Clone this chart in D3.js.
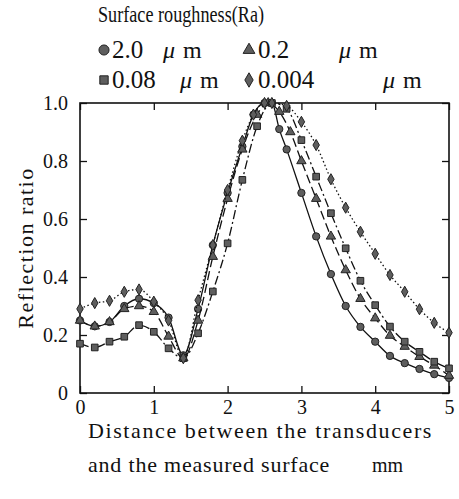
<!DOCTYPE html>
<html>
<head>
<meta charset="utf-8">
<script src="https://cdn.jsdelivr.net/npm/d3@7/dist/d3.min.js"></script>
<style>
  body { margin: 0; background: #fff; }
  svg text { font-family: "Liberation Serif", "Times New Roman", serif; fill: #111; }
</style>
</head>
<body>
<div id="chart"></div>
<script>
// distances (mm) and reflection ratio for each surface roughness
var x_circle = [0, 0.2, 0.4, 0.6, 0.8, 1.0, 1.2, 1.4, 1.6, 1.8, 2.0, 2.2, 2.35, 2.5, 2.6, 2.7, 2.8, 3.0, 3.2, 3.4, 3.6, 3.8, 4.0, 4.2, 4.4, 4.6, 4.8, 5.0];
var y_circle = [0.25, 0.23, 0.245, 0.30, 0.325, 0.31, 0.26, 0.13, 0.29, 0.51, 0.69, 0.85, 0.96, 1.0, 1.0, 0.91, 0.84, 0.69, 0.54, 0.41, 0.30, 0.228, 0.177, 0.128, 0.103, 0.083, 0.065, 0.052];

var x_tri = [0, 0.2, 0.4, 0.6, 0.8, 1.0, 1.2, 1.4, 1.6, 1.8, 2.0, 2.2, 2.4, 2.55, 2.7, 2.85, 3.0, 3.2, 3.4, 3.6, 3.8, 4.0, 4.2, 4.4, 4.6, 4.8, 5.0];
var y_tri = [0.25, 0.23, 0.245, 0.29, 0.30, 0.28, 0.195, 0.12, 0.25, 0.47, 0.67, 0.84, 0.96, 1.0, 0.97, 0.90, 0.80, 0.67, 0.54, 0.424, 0.325, 0.258, 0.198, 0.16, 0.125, 0.095, 0.06];

var x_sq = [0, 0.2, 0.4, 0.6, 0.8, 1.0, 1.2, 1.4, 1.6, 1.8, 2.0, 2.2, 2.4, 2.6, 2.8, 3.0, 3.2, 3.4, 3.6, 3.8, 4.0, 4.2, 4.4, 4.6, 4.8, 5.0];
var y_sq = [0.17, 0.157, 0.177, 0.194, 0.234, 0.211, 0.154, 0.12, 0.206, 0.35, 0.516, 0.735, 0.92, 1.0, 0.98, 0.872, 0.746, 0.62, 0.499, 0.387, 0.303, 0.229, 0.177, 0.142, 0.108, 0.085];

var x_dia = [0, 0.2, 0.4, 0.6, 0.8, 1.0, 1.2, 1.4, 1.6, 1.8, 2.0, 2.2, 2.35, 2.5, 2.6, 2.8, 3.0, 3.2, 3.4, 3.6, 3.8, 4.0, 4.2, 4.4, 4.6, 4.8, 5.0];
var y_dia = [0.29, 0.31, 0.318, 0.349, 0.357, 0.315, 0.25, 0.12, 0.32, 0.51, 0.70, 0.87, 0.96, 1.0, 1.0, 0.99, 0.935, 0.855, 0.737, 0.639, 0.556, 0.48, 0.407, 0.349, 0.289, 0.242, 0.208];

var xTicks = [0, 1, 2, 3, 4, 5];
var yTicks = [0, 0.2, 0.4, 0.6, 0.8, 1.0];
var legendLabels = ["2.0", "0.2", "0.08", "0.004"];

var width = 459, height = 499;
var serif = "'Liberation Serif', 'Times New Roman', serif";
// plot box (note: "top" is reserved on window, so use other names)
var pLeft = 80, pRight = 449, pTop = 103, pBottom = 393;

var svg = d3.select("#chart").append("svg")
    .attr("width", width)
    .attr("height", height);

var x = d3.scaleLinear().domain([0, 5]).range([pLeft, pRight]);
var y = d3.scaleLinear().domain([0, 1]).range([pBottom, pTop]);

// frame with inward ticks on all four sides
function styleAxis(g) {
  g.attr("font-family", serif);
  g.select(".domain").remove();
  g.selectAll(".tick line").attr("stroke", "#111").attr("stroke-width", 1.3);
  g.selectAll(".tick text").attr("font-size", 20).attr("fill", "#111");
}

svg.append("g").attr("transform", "translate(0," + pBottom + ")")
  .call(d3.axisBottom(x).tickValues(xTicks).tickSizeInner(-7).tickSizeOuter(0).tickPadding(7)
        .tickFormat(d3.format("d")))
  .call(styleAxis);

svg.append("g").attr("transform", "translate(" + pLeft + ",0)")
  .call(d3.axisLeft(y).tickValues(yTicks).tickSizeInner(-7).tickSizeOuter(0).tickPadding(12)
        .tickFormat(function(d) { return d === 0 ? "0" : d3.format(".1f")(d); }))
  .call(styleAxis);

svg.append("g").attr("transform", "translate(0," + pTop + ")")
  .call(d3.axisTop(x).tickValues(xTicks).tickSizeInner(-7).tickSizeOuter(0).tickFormat(""))
  .call(styleAxis);

svg.append("g").attr("transform", "translate(" + pRight + ",0)")
  .call(d3.axisRight(y).tickValues(yTicks).tickSizeInner(-7).tickSizeOuter(0).tickFormat(""))
  .call(styleAxis);

svg.append("rect")
  .attr("x", pLeft).attr("y", pTop)
  .attr("width", pRight - pLeft).attr("height", pBottom - pTop)
  .attr("fill", "none").attr("stroke", "#111").attr("stroke-width", 1.6);

// series
var series = [
  {xs: x_circle, ys: y_circle, symbol: d3.symbolCircle, size: 42, dash: null},
  {xs: x_tri, ys: y_tri, symbol: d3.symbolTriangle, size: 38, dash: "9,4"},
  {xs: x_sq, ys: y_sq, symbol: d3.symbolSquare, size: 44, dash: "9,3,2,3"},
  {xs: x_dia, ys: y_dia, symbol: d3.symbolDiamond, size: 36, dash: "1.5,2.5"}
];

var line = d3.line()
  .x(function(d) { return x(d[0]); })
  .y(function(d) { return y(d[1]); })
  .curve(d3.curveMonotoneX);

series.forEach(function(s) {
  var pts = s.xs.map(function(v, i) { return [v, s.ys[i]]; });
  svg.append("path")
    .datum(pts)
    .attr("d", line)
    .attr("fill", "none")
    .attr("stroke", "#111")
    .attr("stroke-width", 1.3)
    .attr("stroke-dasharray", s.dash);

  svg.selectAll(null)
    .data(pts)
    .enter().append("path")
    .attr("transform", function(d) { return "translate(" + x(d[0]) + "," + y(d[1]) + ")"; })
    .attr("d", d3.symbol().type(s.symbol).size(s.size))
    .attr("fill", "#5e5e5e")
    .attr("stroke", "#222")
    .attr("stroke-width", 1);
});

// legend
svg.append("text").attr("x", 98).attr("y", 22).attr("font-size", 23)
  .attr("textLength", 166).attr("lengthAdjust", "spacingAndGlyphs")
  .text("Surface roughness(Ra)");

var legend = [
  {symbol: d3.symbolCircle, size: 80, sx: 104, sy: 50, tx: 112, mu: 163},
  {symbol: d3.symbolTriangle, size: 60, sx: 249, sy: 50, tx: 258, mu: 339},
  {symbol: d3.symbolSquare, size: 70, sx: 104, sy: 80, tx: 112, mu: 180},
  {symbol: d3.symbolDiamond, size: 60, sx: 249, sy: 80, tx: 258, mu: 383}
];

legend.forEach(function(l, i) {
  svg.append("path")
    .attr("transform", "translate(" + l.sx + "," + l.sy + ")")
    .attr("d", d3.symbol().type(l.symbol).size(l.size))
    .attr("fill", "#5e5e5e").attr("stroke", "#222").attr("stroke-width", 1);
  svg.append("text").attr("x", l.tx).attr("y", l.sy + 8).attr("font-size", 25)
    .text(legendLabels[i]);
  var t = svg.append("text").attr("x", l.mu).attr("y", l.sy + 8).attr("font-size", 24);
  t.append("tspan").attr("font-style", "italic").text("\u03bc");
  t.append("tspan").attr("dx", 8).text("m");
});

// axis titles
svg.append("text")
  .attr("transform", "translate(33,248) rotate(-90)")
  .attr("text-anchor", "middle")
  .attr("font-size", 22)
  .style("letter-spacing", "1.5px")
  .text("Reflection ratio");

svg.append("text").attr("x", 88).attr("y", 438).attr("font-size", 22)
  .style("letter-spacing", "1.6px")
  .text("Distance between the transducers");
svg.append("text").attr("x", 88).attr("y", 472).attr("font-size", 22)
  .style("letter-spacing", "0.8px")
  .text("and the measured surface");
svg.append("text").attr("x", 372).attr("y", 472).attr("font-size", 20)
  .text("mm");

svg.selectAll("text").attr("font-family", serif).style("font-family", serif);
</script>
</body>
</html>
